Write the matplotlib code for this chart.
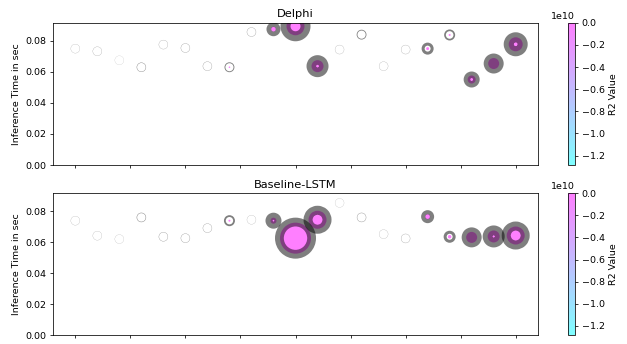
import numpy as np
import matplotlib
matplotlib.use("Agg")
import matplotlib.pyplot as plt

# one bubble per run, x is just the run index
runs = np.arange(21)

# Delphi
delphi_time = [0.0750, 0.0733, 0.0675, 0.0630, 0.0776, 0.0754, 0.0637, 0.0630, 0.0857, 0.0875,
               0.0894, 0.0637, 0.0744, 0.0840, 0.0637, 0.0744, 0.0750, 0.0838, 0.0551, 0.0654,
               0.0778]
delphi_r2 = [-2.1e9, -3.4e9, -1.285e10, -6.0e9, -2.5e9, -4.1e9, -7.3e9, -0.9e9, -3.0e9, 0.6,
             0.9, 0.7, -5.2e9, -1.1e9, -8.0e9, -4.4e9, 0.5, 0.4, 0.6, 0.7,
             0.8]
# bubble radii (px): coloured fill, ring radius, ring width
delphi_fill = [0, 0, 0, 0, 0, 0, 0, 0.8, 0, 2.5, 9, 6, 0, 0, 0, 0, 1.5, 1.0, 4, 5.5, 7]
delphi_ring = [4.5, 4.5, 4.5, 4.5, 4.5, 4.5, 4.5, 4.5, 4.5, 4.65, 10, 6.25, 4.5, 4.5, 4.5, 4.5,
               4.5, 4.65, 4.75, 5, 7]
delphi_width = [0.18, 0.22, 0.12, 0.4, 0.22, 0.28, 0.28, 0.9, 0.28, 4.7, 10, 9.5, 0.2, 0.8, 0.2, 0.22,
                3, 1.7, 6.5, 10, 10]

# Baseline-LSTM
lstm_time = [0.0740, 0.0643, 0.0621, 0.0761, 0.0636, 0.0627, 0.0692, 0.0740, 0.0746, 0.0740,
             0.0627, 0.0746, 0.0855, 0.0761, 0.0653, 0.0625, 0.0766, 0.0636, 0.0632, 0.0638,
             0.0644]
lstm_r2 = [-2.8e9, -5.5e9, -1.285e10, -1.9e9, -3.7e9, -4.6e9, -2.2e9, 0.5, -6.4e9, 0.6,
           0.9, 0.8, -9.1e9, -2.4e9, -7.0e9, -3.3e9, 0.6, 0.5, 0.7, 0.7,
           0.8]
lstm_fill = [0, 0, 0, 0, 0, 0, 0, 1.0, 0, 3, 15.5, 9, 0, 0, 0, 0, 2.6, 1.8, 5.5, 6, 9]
lstm_ring = [4.5, 4.5, 4.5, 4.5, 4.5, 4.5, 4.5, 4.6, 4.5, 4.5, 16.1, 9.5, 4.5, 4.5, 4.5, 4.5,
             4.4, 4.5, 5, 6.15, 9.5]
lstm_width = [0.18, 0.18, 0.15, 0.45, 0.3, 0.3, 0.28, 1.8, 0.18, 7, 8.8, 9, 0.15, 0.35, 0.18, 0.25,
              4.2, 3, 10, 9.7, 9]

PX = 0.72  # points per pixel at dpi 100


def bubble_panel(ax, cax, title, times, r2, fill, ring, width):
    fill_s = (2 * np.array(fill) * PX) ** 2
    ring_s = (2 * np.array(ring) * PX) ** 2
    sc = ax.scatter(runs, times, s=fill_s, c=r2, cmap='cool', alpha=0.5,
                    edgecolors='none')
    ax.scatter(runs, times, s=ring_s, facecolors='none', edgecolors='black',
               linewidths=np.array(width) * PX, alpha=0.5)
    ax.set_xlim(-1, 21)
    ax.set_ylim(0, 0.0917)
    ax.set_yticks([0.0, 0.02, 0.04, 0.06, 0.08])
    ax.set_xticks(np.arange(0, 20.1, 2.5))
    ax.set_xticklabels([])
    ax.set_ylabel('Inference Time in sec', fontsize=6.8, labelpad=3)
    ax.set_title(title, fontsize=8.2, pad=4)
    ax.tick_params(labelsize=6.8, length=2.4, width=0.55, pad=2.4)
    for sp in ax.spines.values():
        sp.set_linewidth(0.55)

    cb = plt.colorbar(sc, cax=cax)
    cb.set_label('R2 Value', fontsize=6.8, labelpad=3)
    cb.ax.tick_params(labelsize=6.8, length=2.4, width=0.55, pad=2.4)
    cb.ax.yaxis.get_offset_text().set_fontsize(6.8)
    cb.outline.set_linewidth(0.55)
    return sc


fig = plt.figure(figsize=(6.27, 3.44), dpi=100)
ax1 = fig.add_axes([0.085, 0.5203, 0.7726, 0.4137])
cax1 = fig.add_axes([0.9064, 0.5203, 0.0107, 0.4137])
ax2 = fig.add_axes([0.085, 0.026, 0.7726, 0.412])
cax2 = fig.add_axes([0.9064, 0.026, 0.0107, 0.412])

bubble_panel(ax1, cax1, 'Delphi', delphi_time, delphi_r2, delphi_fill, delphi_ring, delphi_width)
bubble_panel(ax2, cax2, 'Baseline-LSTM', lstm_time, lstm_r2, lstm_fill, lstm_ring, lstm_width)

fig.savefig('out.png', dpi=100)
